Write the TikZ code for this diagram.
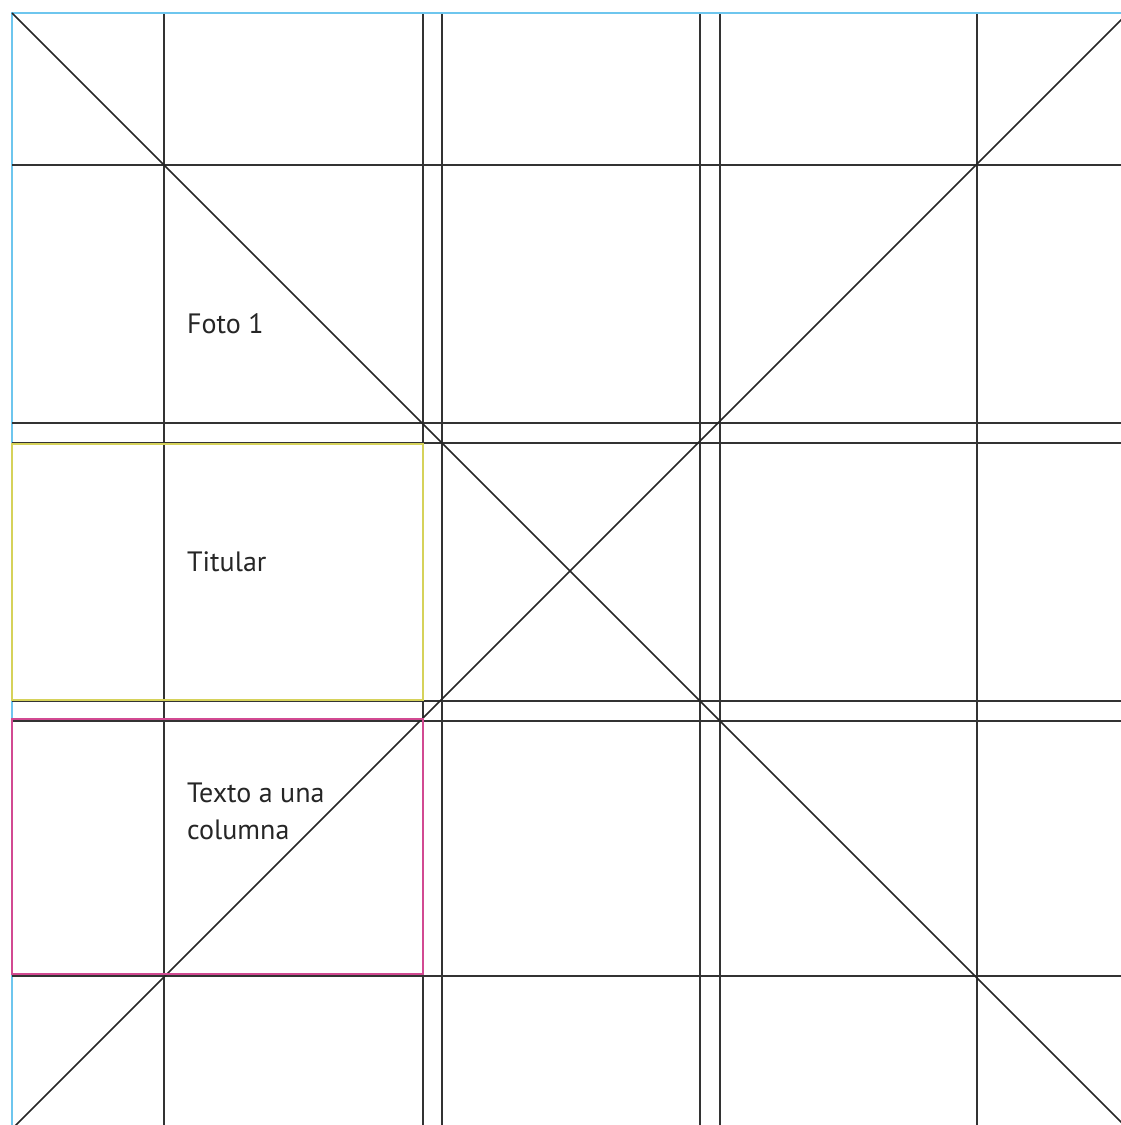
\documentclass[tikz,border=0pt]{standalone}
\usepackage{fontspec}
\setmainfont{PT Sans}
\usepackage{tikz}

\definecolor{guia}{HTML}{6EC6EE}
\definecolor{titular}{HTML}{D6D25A}
\definecolor{texto}{HTML}{D24A92}

\tikzset{
  rejilla/.style={draw=black!80, line width=1.3pt},
  diagonal/.style={draw=black!85, line width=1.6pt},
  caja/.style={line width=1.5pt},
  etiqueta/.style={anchor=base west, inner sep=0pt, font=\fontsize{28}{37}\selectfont, text=black!85, align=left}
}

\begin{document}
\begin{tikzpicture}[x=1pt,y=-1pt]
  \useasboundingbox (0,0) rectangle (1121,1125);
  \clip (0,0) rectangle (1121,1125);
  % borde de la pagina
  \draw[guia, line width=2pt] (12,1125) -- (12,13) -- (1121,13);
  % columnas y filas
  \foreach \x in {164,423,442,700,720,977}
    \draw[rejilla] (\x,14) -- (\x,1125);
  \foreach \y in {165,423,443,701,721,976}
    \draw[rejilla] (12,\y) -- (1121,\y);
  % diagonales
  \draw[diagonal] (12,13) -- (1128,1129);
  \draw[diagonal] (1128,13) -- (12,1129);
  % cajas
  \draw[caja, titular] (12,444) rectangle (423,700);
  \draw[caja, texto] (12,719) rectangle (423,974);
  % textos
  \node[etiqueta] (foto) at (187,333) {Foto 1};
  \node[etiqueta] (tit) at (187,571) {Titular};
  \node[etiqueta] (txt) at (187,839) {Texto a una\\columna};
\end{tikzpicture}
\end{document}
